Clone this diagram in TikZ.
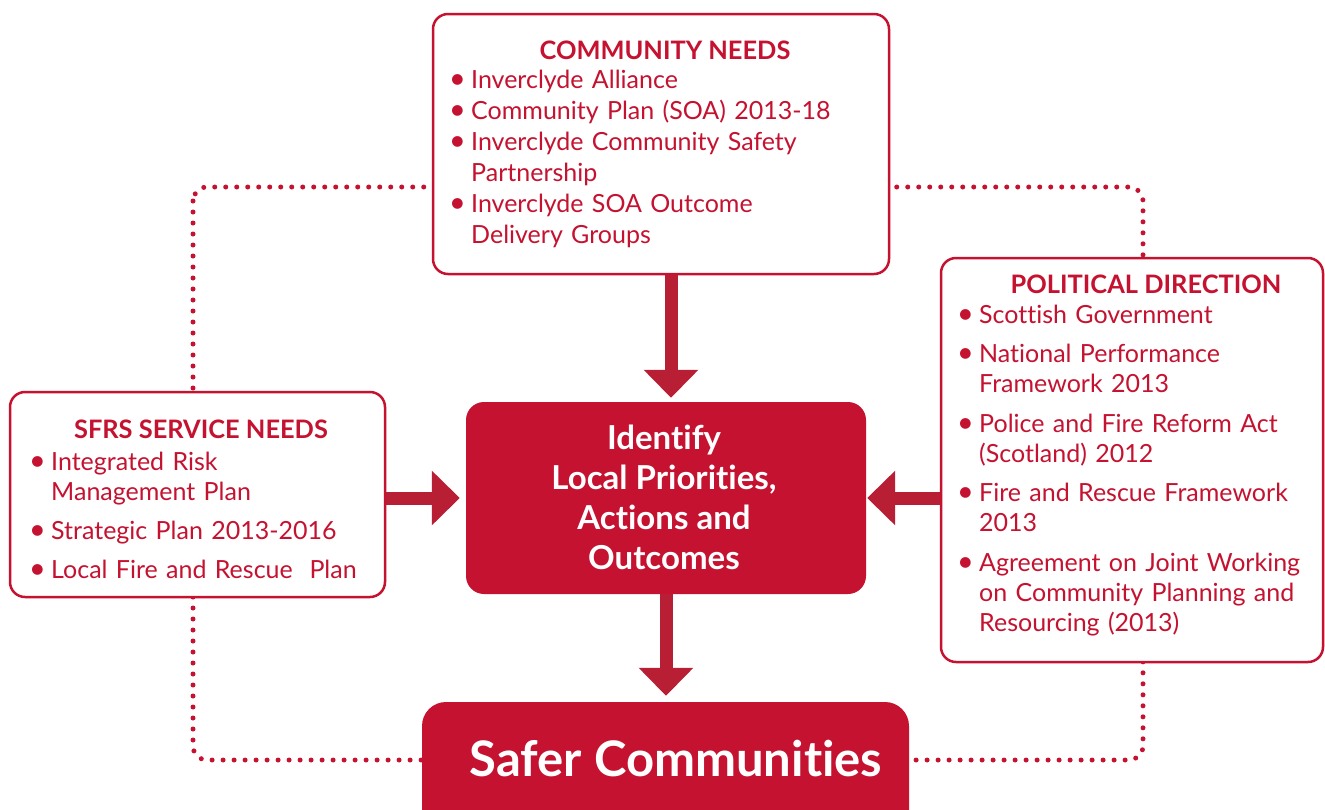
\documentclass[tikz,border=0pt]{standalone}
\usepackage{fontspec}
\setmainfont{Lato}[Ligatures={NoCommon,TeX}]
\usetikzlibrary{arrows.meta}
\definecolor{sfrsred}{HTML}{C41230}
\definecolor{arrowred}{HTML}{B81F35}
\newcommand{\bulletmark}{\makebox[16pt][l]{\hspace{-6pt}\scalebox{1.15}{\textbullet}}}
\newcommand{\nl}{\hfil\break}
\newcommand{\firstitem}[1]{\hangindent=16pt\hangafter=1\noindent\bulletmark #1}
\newcommand{\bitem}[1]{\par\hangindent=16pt\hangafter=1\noindent\bulletmark #1}
\begin{document}
\begin{tikzpicture}[x=1pt,y=-1pt,
  outline/.style={draw=sfrsred,line width=2.5pt,fill=white,rounded corners=15pt,inner sep=0pt},
  solidbox/.style={fill=sfrsred,rounded corners=18pt,inner sep=0pt},
  heading/.style={text=sfrsred,font=\fontsize{25.4}{28}\selectfont\bfseries,inner sep=0pt,anchor=base},
  bullets/.style={text=sfrsred,inner sep=0pt,anchor=base west,text width=420pt},
  blockarrow/.style={draw=arrowred,line width=13pt,-{Triangle[width=53pt,length=28pt]}},
  dotloop/.style={draw=sfrsred,line width=5pt,line cap=round,dash pattern=on 0pt off 11pt,rounded corners=14pt}]
\useasboundingbox (0,0) rectangle (1325,809);
% dotted cycle
\draw[dotloop] (193,187) rectangle (1143,760);
% boxes
\node[outline,minimum width=456pt,minimum height=260pt] (comm) at (661,144) {};
\node[outline,minimum width=375pt,minimum height=205pt] (sfrs) at (197.5,494.5) {};
\node[outline,minimum width=382pt,minimum height=404pt] (pol) at (1132,460) {};
\node[solidbox,minimum width=400pt,minimum height=192pt] (ctr) at (666,498) {};
\node[solidbox,rounded corners=24pt,minimum width=487pt,minimum height=140pt] (safer) at (665.5,772) {};
% arrows
\draw[blockarrow,shorten >=4pt] ([xshift=10pt]comm.south) -- ([xshift=10pt]comm.south |- ctr.north);
\draw[blockarrow,shorten >=6pt] (ctr.south) -- (ctr.south |- safer.north);
\draw[blockarrow,shorten >=6pt] (sfrs.east |- ctr.west) -- (ctr.west);
\draw[blockarrow,shorten >=1pt] (pol.west |- ctr.east) -- (ctr.east);
% texts
\node[heading] (commhead) at (665,59) {COMMUNITY NEEDS};
\node[bullets,font=\fontsize{25}{31}\selectfont] (commlist) at (455,88) {\firstitem{Inverclyde Alliance}%
\bitem{Community Plan (SOA) 2013-18}%
\bitem{Inverclyde Community Safety\nl Partnership}%
\bitem{Inverclyde SOA Outcome\nl Delivery Groups}\par};
\node[heading] (polhead) at (1146,293) {POLITICAL DIRECTION};
\node[bullets,font=\fontsize{25}{30}\selectfont] (pollist) at (963,323) {\setlength{\parskip}{9.5pt}\firstitem{Scottish Government}%
\bitem{National Performance\nl Framework 2013}%
\bitem{Police and Fire Reform Act\nl (Scotland) 2012}%
\bitem{Fire and Rescue Framework\nl 2013}%
\bitem{Agreement on Joint Working\nl on Community Planning and\nl Resourcing (2013)}\par};
\node[heading] (sfrshead) at (201,438) {SFRS SERVICE NEEDS};
\node[bullets,font=\fontsize{25}{30}\selectfont] (sfrslist) at (35,470) {\setlength{\parskip}{9pt}\firstitem{Integrated Risk\nl Management Plan}%
\bitem{Strategic Plan 2013-2016}%
\bitem{Local Fire and Rescue\ \ Plan}\par};
\node[text=white,font=\fontsize{33}{40}\selectfont\bfseries,align=center,inner sep=0pt] (ctrtext) at (664,497) {Identify\\Local Priorities,\\Actions and\\Outcomes};
\node[text=white,font=\fontsize{49}{52}\selectfont\bfseries,inner sep=0pt,anchor=base] (safertext) at (676,776) {Safer Communities};
\end{tikzpicture}
\end{document}
